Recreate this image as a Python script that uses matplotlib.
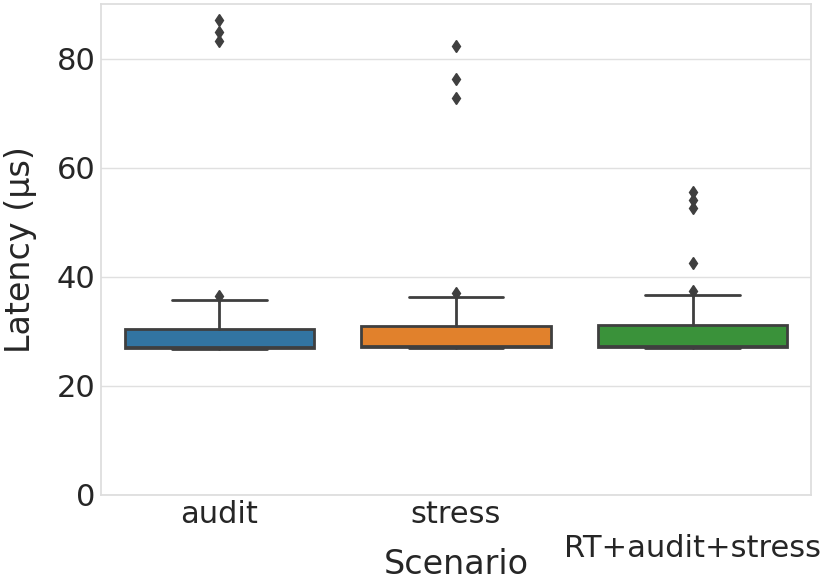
import matplotlib
matplotlib.use("Agg")
import matplotlib.pyplot as plt
import seaborn as sns

# box statistics (latency in microseconds)
scenarios = ["audit", "stress", "\nRT+audit+stress"]
whislo = [26.7, 26.9, 26.9]
q1 = [27.0, 27.2, 27.2]
med = [27.1, 27.3, 27.3]
q3 = [30.5, 30.9, 31.1]
whishi = [35.8, 36.3, 36.6]
fliers = [
    [36.4, 83.3, 84.8, 87.0],
    [37.1, 72.7, 76.3, 82.4],
    [37.3, 42.5, 52.6, 54.1, 55.5],
]
colors = ["#3274a1", "#e1812c", "#3a923a"]

sns.set_theme(style="whitegrid")
plt.rcParams["font.family"] = ["DejaVu Sans"]

fig, ax = plt.subplots(figsize=(8.31, 5.87), dpi=100)
fig.subplots_adjust(left=0.1215, right=0.976, bottom=0.157, top=0.993)

stats = []
for i, name in enumerate(scenarios):
    stats.append(dict(label=name, whislo=whislo[i], q1=q1[i], med=med[i],
                      q3=q3[i], whishi=whishi[i], fliers=fliers[i]))

edge = "#3f3f3f"
bp = ax.bxp(stats, positions=range(len(stats)), widths=0.8, patch_artist=True,
            boxprops=dict(edgecolor=edge, linewidth=2),
            whiskerprops=dict(color=edge, linewidth=2),
            capprops=dict(color=edge, linewidth=2),
            medianprops=dict(color=edge, linewidth=2),
            flierprops=dict(marker="d", markersize=6, markerfacecolor=edge,
                            markeredgecolor=edge))
for patch, c in zip(bp["boxes"], colors):
    patch.set_facecolor(c)

ax.set_xlim(-0.5, 2.5)
ax.set_ylim(0, 90)
ax.set_yticks([0, 20, 40, 60, 80])
ax.xaxis.grid(False)
ax.yaxis.grid(True, color="#e0e0e0", linewidth=1)
ax.tick_params(labelsize=22, colors="#262626", length=0, pad=4)
ax.set_xlabel("Scenario", fontsize=24, color="#262626")
ax.set_ylabel("Latency (µs)", fontsize=24, color="#262626", labelpad=14)
ax.xaxis.set_label_coords(0.5, -0.108)
for s in ax.spines.values():
    s.set_color("#dddddd")

fig.savefig("out.png", dpi=100)
